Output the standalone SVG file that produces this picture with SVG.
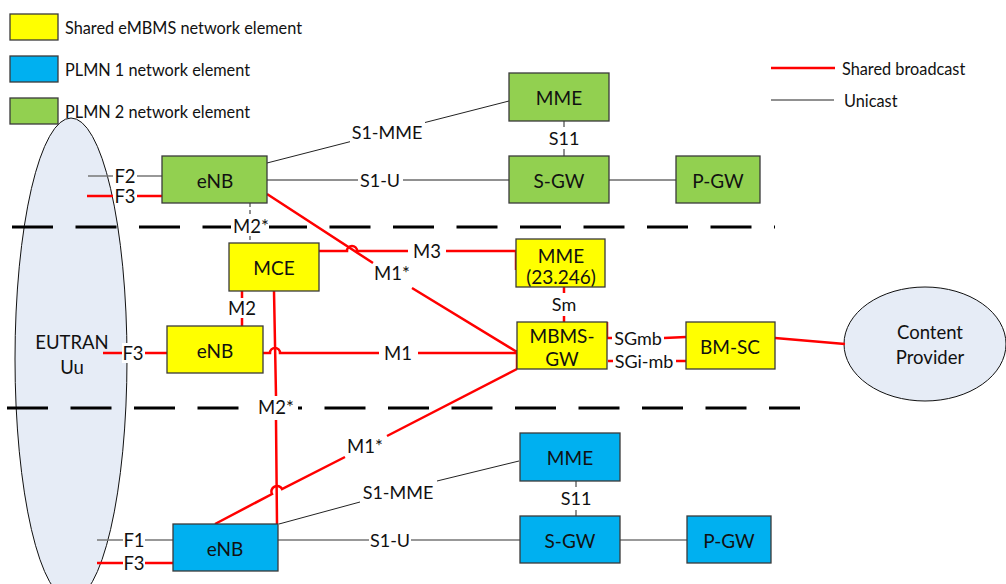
<svg xmlns="http://www.w3.org/2000/svg" width="1006" height="584" viewBox="0 0 1006 584">
<style>
text{font-family:Lato,"Open Sans","Liberation Sans",sans-serif;font-size:18px;fill:#111;dominant-baseline:central;text-anchor:middle}
.lt{text-anchor:start;font-size:16.3px}
.bx{stroke:#3a3a3a;stroke-width:1.3}
.y{fill:#FFFF00}.b{fill:#00B0F0}.g{fill:#92D050}
.r{stroke:#FF0000;stroke-width:2.5;fill:none}
.u{stroke:#222;stroke-width:1;fill:none}
.ug{stroke:#777;stroke-width:1.5;fill:none}
.d{stroke:#000;stroke-width:3;fill:none;stroke-dasharray:41 22.5}
.lbl{font-size:18.5px}
.nm{font-size:19px}
</style>
<rect width="1006" height="584" fill="#fff"/>
<g id="legend">
<rect x="10" y="14" width="48" height="26" class="bx y"/>
<text x="65" y="27" class="lt">Shared eMBMS network element</text>
<rect x="10" y="56" width="48" height="26" class="bx b"/>
<text x="65" y="69" class="lt">PLMN 1 network element</text>
<rect x="10" y="98" width="48" height="26" class="bx g"/>
<text x="65" y="111" class="lt">PLMN 2 network element</text>
<line x1="771" y1="68" x2="835" y2="68" class="r"/>
<text x="842" y="68" class="lt">Shared broadcast</text>
<line x1="771" y1="100" x2="834" y2="100" class="u"/>
<text x="844" y="100" class="lt">Unicast</text>
</g>
<g id="eutran">
<ellipse cx="71" cy="359" rx="56" ry="241" fill="#E6ECF6" stroke="#111" stroke-width="1"/>
<text x="72" y="342" class="lbl">EUTRAN</text>
<text x="72" y="367" class="lbl">Uu</text>
</g>
<g id="content-provider">
<ellipse cx="925" cy="344" rx="81" ry="57" fill="#E6ECF6" stroke="#111" stroke-width="1"/>
<text x="930" y="332" class="lbl">Content</text>
<text x="930" y="357" class="lbl">Provider</text>
</g>
<g id="dividers">
<path d="M12 227H775" class="d"/>
<path d="M7 408H800" class="d"/>
<rect x="231" y="218" width="38" height="18" fill="#fff"/>
<rect x="256" y="398" width="42" height="20" fill="#fff"/>
</g>
<g id="connectors">
<path d="M88 176H113M137 176H162" class="ug"/>
<text x="125" y="176" class="lbl">F2</text>
<path d="M87 196H113M137 196H162" class="r"/>
<text x="125" y="196" class="lbl">F3</text>
<path d="M267 163L350 141.7M425 122.5L509 101" class="u"/>
<text x="387" y="132">S1-MME</text>
<path d="M267 180H358M403 180H509" class="u"/>
<text x="380" y="180">S1-U</text>
<path d="M564 121V127M564 149V156" class="u"/>
<text x="564" y="138">S11</text>
<path d="M609 180H676" class="u"/>
<path d="M250 203V217M250 236V243" class="u" stroke-dasharray="4 3"/>
<text x="251" y="226" class="lbl">M2*</text>
<path d="M319 251H347A5 5 0 0 1 357 251H408M446 251H516V270" class="r"/>
<text x="427" y="251" class="lbl">M3</text>
<path d="M267 194L373 263M412 288L517 352" class="r"/>
<text x="392" y="273" class="lbl">M1*</text>
<path d="M564 287V293M564 316V322" class="r"/>
<text x="564" y="304">Sm</text>
<path d="M607 322V338H612M664 338L686 337" class="r"/>
<text x="638" y="338">SGmb</text>
<path d="M608 361H613M676 361H686" class="r"/>
<text x="644" y="361">SGi-mb</text>
<path d="M775 338L845 344" class="r"/>
<path d="M103 353H122M145 353H167" class="r"/>
<rect x="122" y="343" width="22" height="20" fill="#fff"/>
<text x="133" y="353" class="lbl">F3</text>
<path d="M242 291V298M242 318V326" class="r"/>
<text x="242" y="308" class="lbl">M2</text>
<path d="M263 353H270A5 5 0 0 1 280 353H379M418 353H517" class="r"/>
<text x="398" y="353" class="lbl">M1</text>
<path d="M517 350V369" class="r"/>
<path d="M274 291L276 396M276 420L277 524" class="r"/>
<text x="276" y="407" class="lbl">M2*</text>
<path d="M215 524L272 494A5 5 0 0 1 282 489L345 457M387 436L517 369" class="r"/>
<text x="365" y="446" class="lbl">M1*</text>
<path d="M97 540H123M145 540H173" class="ug"/>
<text x="134" y="540" class="lbl">F1</text>
<path d="M97 563H123M145 563H173" class="r"/>
<text x="134" y="563" class="lbl">F3</text>
<path d="M279 524L360 502M437 481L519 461" class="u"/>
<text x="398" y="492">S1-MME</text>
<path d="M278 540H369M411 540H520" class="ug"/>
<text x="390" y="540">S1-U</text>
<path d="M576 481V487M576 510V516" class="u"/>
<text x="576" y="498">S11</text>
<path d="M620 540H687" class="ug"/>
</g>
<g id="enb-plmn2"><rect x="162" y="156" width="105" height="47" class="bx g"/><text x="215" y="180" class="nm">eNB</text></g>
<g id="mme-plmn2"><rect x="509" y="73" width="100" height="48" class="bx g"/><text x="559" y="97" class="nm">MME</text></g>
<g id="sgw-plmn2"><rect x="509" y="156" width="100" height="47" class="bx g"/><text x="559" y="180" class="nm">S-GW</text></g>
<g id="pgw-plmn2"><rect x="676" y="156" width="84" height="47" class="bx g"/><text x="718" y="180" class="nm">P-GW</text></g>
<g id="mce"><rect x="229" y="243" width="90" height="48" class="bx y"/><text x="274" y="267" class="nm">MCE</text></g>
<g id="mme-23246"><rect x="516" y="239" width="89" height="48" class="bx y"/><text x="561" y="255" class="nm">MME</text><text x="561" y="276" class="nm">(23.246)</text></g>
<g id="enb-shared"><rect x="167" y="326" width="96" height="47" class="bx y"/><text x="215" y="350" class="nm">eNB</text></g>
<g id="mbms-gw"><rect x="517" y="322" width="90" height="47" class="bx y"/><text x="562" y="335" class="nm">MBMS-</text><text x="562" y="358" class="nm">GW</text></g>
<g id="bm-sc"><rect x="686" y="322" width="89" height="47" class="bx y"/><text x="730" y="346" class="nm">BM-SC</text></g>
<g id="enb-plmn1"><rect x="173" y="524" width="105" height="47" class="bx b"/><text x="225" y="548" class="nm">eNB</text></g>
<g id="mme-plmn1"><rect x="520" y="433" width="100" height="48" class="bx b"/><text x="570" y="457" class="nm">MME</text></g>
<g id="sgw-plmn1"><rect x="520" y="516" width="100" height="47" class="bx b"/><text x="570" y="540" class="nm">S-GW</text></g>
<g id="pgw-plmn1"><rect x="687" y="516" width="84" height="47" class="bx b"/><text x="729" y="540" class="nm">P-GW</text></g>
</svg>
